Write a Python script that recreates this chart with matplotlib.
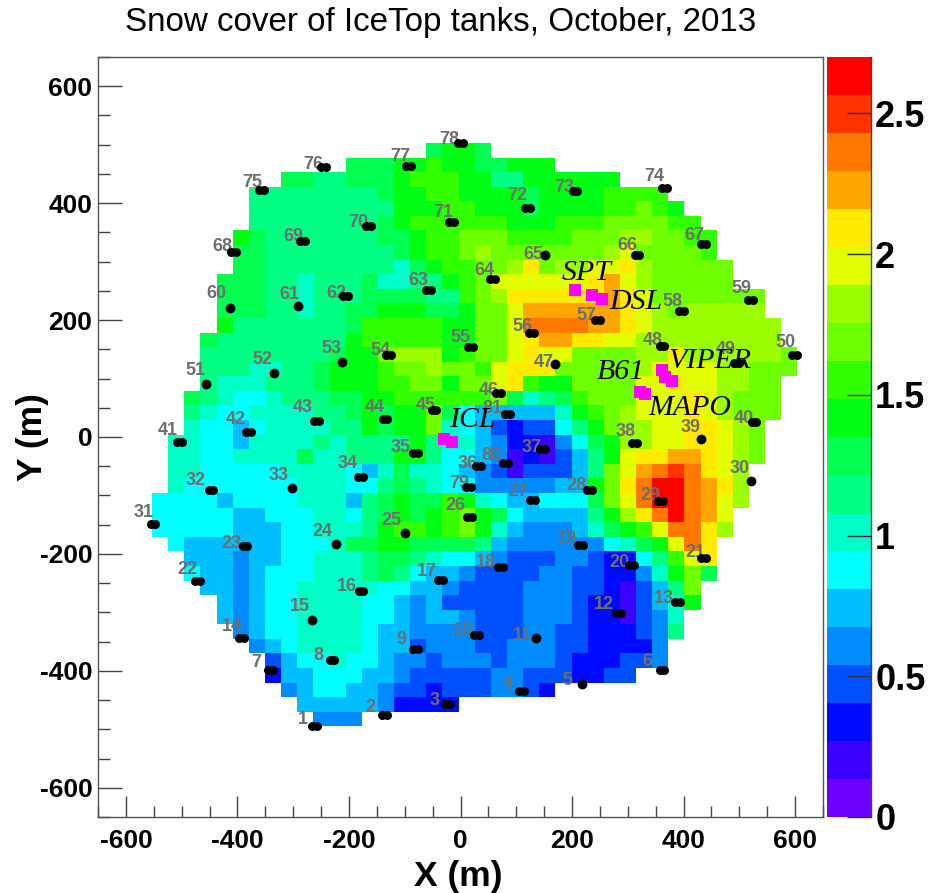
import matplotlib
matplotlib.use("Agg")
import matplotlib.pyplot as plt
import numpy as np
from matplotlib.colors import BoundaryNorm, ListedColormap
from matplotlib.ticker import MultipleLocator

plt.rcParams['font.family'] = ['Liberation Sans', 'DejaVu Sans']
plt.rcParams['axes.unicode_minus'] = False

# snow depth, one character per cell = colour band (0-9, a-j), rows from north to south
band_chars = "0123456789abcdefghij"
first_col = [17, 12, 8, 6, 6, 6, 5, 5, 5, 4, 4, 4, 4, 3, 3, 3, 3, 2, 2, 2,
             1, 1, 1, 1, 0, 0, 0, 1, 2, 2, 3, 4, 4, 5, 6, 7, 7, 8, 9, 10]
snow_rows = [
    "9aa9",
    "999aabaa99aaa",
    "9988999abbbaa88aaaaaa",
    "888888889aabbaaaa9aaaabbbb",
    "888888888aaabbaaa9aaaabbcba",
    "888888889abbbbbbaaabbbccccbb",
    "a9888888899abbcccbbbbcccddccbb",
    "99888888889abbcdcccccccdeccccb",
    "998888888879abbccdfcddeefdccccc",
    "99988788897788abceeeeeefgedccccc",
    "999887888999988bcdffffffgfeccccccc",
    "9998878899aaa99acceggggggfedcddddd",
    "a88888889bbbbbaaccehhhhggfedddddddd",
    "988888888abbbbbaaccefggffeeddddddddd",
    "888888889aacdddabccefeeccccddfddddddc",
    "88877889aaabccdccbefffcccccdeeeeddccc",
    "87778889aaabbccaccefbaacccceefeeddcc",
    "98766788899aabbbbbbc9789bccceeefedccc",
    "87667777889a9aac96555557abcdeeefedccc",
    "76656777788a9aac765323368acddeeffedc",
    "776657777878888a87754221469addeeffedc",
    "77667777977888aa86654121358aeffggfedc",
    "776666677776579776543133358ceghihfed",
    "76666666777668987664444455acfhjjhgfd",
    "666656666777589a99ba76556669cehjjhged",
    "666665566677689a9abca9655558adfhjhge",
    "66666555667778abbabca75444579abehhfd",
    "6555555666799aa999985444444679aehf",
    "555455667778998766543334432268bef",
    "655456667778986554333344332247ac9",
    "554566777776655433334443321358c",
    "54566777766545333334443221357a",
    "54566777766545543334443221347",
    "4566777765544443334433222348",
    "45677776553444334443322224",
    "3566766544344434443222334",
    "25566655433333443332233",
    "45665543323334432",
    "5555542222",
    "444",
]
band_width = 0.135
band_colors = ['#6e00ff', '#3c00ff', '#000aff', '#0050ff', '#008cff',
               '#00beff', '#00ffff', '#00ffc8', '#00ff82', '#00ff50',
               '#00ff14', '#32ff00', '#6eff00', '#9bff00', '#e1ff00',
               '#ffeb00', '#ffa500', '#ff7800', '#ff3200', '#ff0000']

# stations 1..81
station_x = [-262, -136, -23, 109, 217, 361, -341, -230, -81, 29, 135, 283, 389, -393, -266, -178, -36,
             72, 215, 307, 436, -472, -386, -224, -100, 16, 129, 231, 359, 520, -551, -447, -303, -179,
             -81, 32, 147, 312, 432, 526, -504, -380, -258, -135, -48, 68, 170, 361, 495, 599, -457,
             -334, -212, -129, 18, 127, 246, 396, 520, -414, -291, -206, -57, 57, 152, 316, 436, -407,
             -283, -165, -16, 120, 205, 366, -357, -246, -93, 0, 14, 81, 84]
station_y = [-494, -475, -456, -434, -422, -398, -398, -381, -363, -339, -344, -301, -282, -344, -313, -264, -245,
             -223, -185, -219, -207, -247, -187, -183, -165, -136, -108, -90, -110, -76, -149, -90, -88, -69,
             -28, -50, -21, -11, -4, 25, -9, 9, 28, 30, 47, 76, 125, 156, 127, 141, 91,
             110, 129, 141, 154, 178, 200, 216, 235, 221, 224, 241, 252, 271, 311, 311, 330, 317,
             335, 361, 368, 392, 421, 426, 422, 462, 463, 503, -86, -45, 40]
label_dx = [-12, -14, -13, -14, -14, -14, -14, -14, -14, -14, -13, -14, -14, -9, -12, -14, -14,
            -15, -14, -12, -8, -10, -14, -13, -13, -14, -14, -13, -10, -11, -10, -16, -13, -13,
            -15, -11, -11, -9, -11, -10, -12, -13, -14, -10, -8, -10, -12, -9, -11, -9, -10,
            -12, -11, -8, -10, -9, -11, -9, -9, -13, -9, -9, -10, -8, -12, -9, -9, -11,
            -9, -10, -8, -10, -11, -10, -9, -10, -8, -11, -9, -14, -15]
label_dy = [6, 7, 3, 6, 3, 8, 7, 4, 10, 5, 3, 8, 3, 12, 13, 5, 9,
            5, 7, 3, 6, 12, 3, 12, 13, 11, 9, 4, 6, 13, 12, 9, 13, 14,
            6, 3, 2, 12, 12, 4, 12, 12, 13, 12, 4, 2, 1, 5, 13, 12, 13,
            13, 13, 4, 9, 6, 5, 9, 11, 14, 12, 3, 9, 8, 1, 10, 9, 5,
            5, 3, 9, 12, 3, 11, 8, 2, 10, 3, 4, 8, 5]
single_tank = [5, 11, 15, 24, 25, 30, 33, 39, 47, 51, 52, 53, 60, 61, 65]

# buildings
building_x = [205, 235, 253, 322, 330, 361, 366, 380, -30, -16]
building_y = [252, 243, 236, 77, 74, 115, 102, 95, -4, -8]
building_names = ['SPT', 'DSL', 'B61', 'VIPER', 'MAPO', 'ICL']
name_x = [226, 314, 287, 447, 412, 22]
name_y = [281, 231, 112, 130, 50, 29]

depth = np.full((40, 40), np.nan)
for j, row in enumerate(snow_rows):
    for i, c in enumerate(row):
        depth[j, first_col[j] + i] = (band_chars.index(c) + 0.5) * band_width

x_edges = np.linspace(-553, 604, 41)
y_edges = np.linspace(503, -495, 41)
levels = np.arange(21) * band_width
cmap = ListedColormap(band_colors)
norm = BoundaryNorm(levels, cmap.N)

W, H = 936, 893
fig = plt.figure(figsize=(W / 100, H / 100), dpi=100)
ax = fig.add_axes([98 / W, 1 - 817 / H, 725 / W, 760 / H])
mesh = ax.pcolormesh(x_edges, y_edges, depth, cmap=cmap, norm=norm)

ax.set_xlim(-650, 650)
ax.set_ylim(-650, 650)
ax.xaxis.set_major_locator(MultipleLocator(200))
ax.xaxis.set_minor_locator(MultipleLocator(50))
ax.yaxis.set_major_locator(MultipleLocator(200))
ax.yaxis.set_minor_locator(MultipleLocator(50))
ax.tick_params(axis='x', which='major', direction='in', length=15, width=1, color='#444444', labelsize=19, pad=9)
ax.tick_params(axis='x', which='minor', direction='in', length=8, width=1, color='#444444')
ax.tick_params(axis='y', which='major', direction='in', length=17, width=1, color='#444444', labelsize=19, pad=4)
ax.tick_params(axis='y', which='minor', direction='in', length=8.5, width=1, color='#444444')
for lab in ax.get_xticklabels() + ax.get_yticklabels():
    lab.set_fontweight('bold')
for sp in ax.spines.values():
    sp.set_color('#555555')
    sp.set_linewidth(1.0)

ax.set_xlabel('X (m)', fontsize=25.5, fontweight='bold')
ax.set_ylabel('Y (m)', fontsize=25.5, fontweight='bold')
ax.xaxis.set_label_coords(0.497, -0.056, transform=ax.transAxes)
ax.yaxis.set_label_coords(-0.068, 0.5, transform=ax.transAxes)
fig.text(441 / W, 1 - 22 / H, 'Snow cover of IceTop tanks, October, 2013', fontsize=23.9, ha='center', va='center')

# every station has two tanks next to each other, a few of them overlap completely
for n, (sx, sy, dx, dy) in enumerate(zip(station_x, station_y, label_dx, label_dy), start=1):
    ax.annotate(str(n), (sx, sy), xytext=(dx, dy), textcoords='offset pixels', ha='center', va='center',
                fontsize=13, fontweight='bold', color='#6e6e6e', zorder=3)
    if n in single_tank:
        ax.scatter([sx], [sy], s=50, c='black', zorder=4, linewidths=0)
    else:
        ax.scatter([sx - 4, sx + 4], [sy, sy], s=42, c='black', zorder=4, linewidths=0)

ax.scatter(building_x, building_y, s=68, marker='s', c='#ff00ff', linewidths=0, zorder=5)
for name, nx, ny in zip(building_names, name_x, name_y):
    ax.text(nx, ny, name, fontsize=21.5, family=['Liberation Serif', 'DejaVu Serif'], style='italic',
            ha='center', va='center', color='black', zorder=6)

cax = fig.add_axes([827 / W, 1 - 817 / H, 44 / W, 760 / H])
cb = fig.colorbar(mesh, cax=cax, spacing='proportional', ticks=[0, 0.5, 1, 1.5, 2, 2.5])
cb.ax.set_yticklabels(['0', '0.5', '1', '1.5', '2', '2.5'], fontsize=26, fontweight='bold')
cb.ax.tick_params(direction='in', length=17, width=1, color='#333333', pad=3, which='major')
cb.ax.minorticks_off()
cb.outline.set_visible(False)
cax.spines['right'].set_visible(True)
cax.spines['right'].set_color('#444444')
cax.spines['right'].set_linewidth(1.0)

fig.savefig('out.png', dpi=100)
